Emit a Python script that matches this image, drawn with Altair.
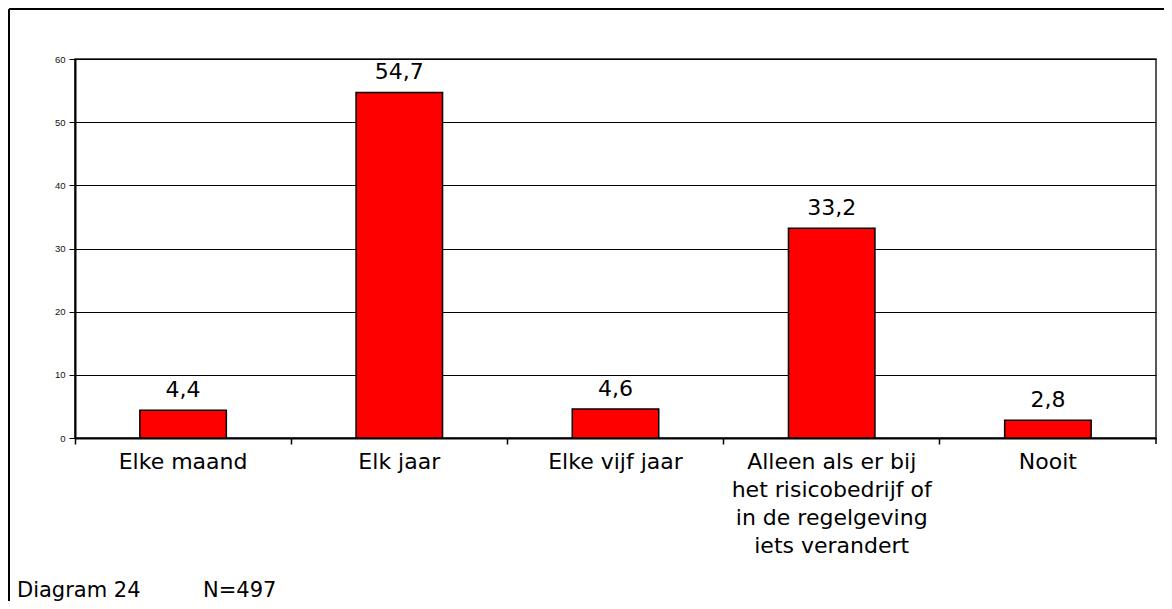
import altair as alt
import pandas as pd

categories = [
    "Elke maand",
    "Elk jaar",
    "Elke vijf jaar",
    "Alleen als er bij\nhet risicobedrijf of\nin de regelgeving\niets verandert",
    "Nooit",
]
values = [4.4, 54.7, 4.6, 33.2, 2.8]
y_ticks = [0, 10, 20, 30, 40, 50, 60]
footer_left = "Diagram 24"
footer_right = "N=497"

df = pd.DataFrame({"cat": categories, "val": values})
df["lbl"] = [f"{v:.1f}".replace(".", ",") for v in values]

W, H = 1081, 379
FONT = "DejaVu Sans"
FS = 22

x_scale = alt.Scale(domain=categories, paddingInner=0.6, paddingOuter=0.3)
y_scale = alt.Scale(domain=[0, 60], nice=False)

base = alt.Chart(df)

bars = base.mark_bar(color="#FF0000", stroke="black", strokeWidth=1.5).encode(
    x=alt.X("cat:N", scale=x_scale, sort=categories, title=None,
            axis=alt.Axis(orient="bottom", labelExpr="split(datum.label, '\\n')", labelAngle=0,
                          ticks=False, domain=True, domainColor="black", domainWidth=2,
                          labelFont=FONT, labelFontSize=FS, labelColor="black",
                          labelLimit=0, labelLineHeight=28, labelPadding=13, grid=False)),
    y=alt.Y("val:Q", scale=y_scale, title=None,
            axis=alt.Axis(values=y_ticks, grid=True, gridColor="black", gridWidth=1,
                          gridOpacity=1, domainColor="black", domainWidth=2,
                          tickColor="black", tickSize=6, tickWidth=1,
                          labelFont="Liberation Sans", labelFontSize=9.5,
                          labelColor="#111", labelPadding=4)),
)

texts = base.mark_text(font=FONT, fontSize=FS, color="black", baseline="alphabetic", dy=-13).encode(
    x=alt.X("cat:N", scale=x_scale, sort=categories, title=None,
            axis=alt.Axis(orient="bottom", labels=False, domain=False, grid=False, ticks=True,
                          tickColor="black", tickWidth=1.5, tickSize=6,
                          bandPosition=-0.75)),
    y=alt.Y("val:Q", scale=y_scale, axis=None),
    text="lbl:N",
)

end_tick = alt.Chart(pd.DataFrame({"a": [0]})).mark_rule(color="black", strokeWidth=1.5).encode(
    x=alt.value(W), y=alt.value(H), y2=alt.value(H + 6)
)

frame_left = alt.Chart(pd.DataFrame({"a": [0]})).mark_rule(color="black", strokeWidth=2).encode(
    x=alt.value(-66), y=alt.value(-50), y2=alt.value(H + 170)
)
frame_top = alt.Chart(pd.DataFrame({"a": [0]})).mark_rule(color="black", strokeWidth=2).encode(
    x=alt.value(-66), x2=alt.value(W + 10), y=alt.value(-50)
)

foot_l = alt.Chart(pd.DataFrame({"t": [footer_left]})).mark_text(
    font=FONT, fontSize=21, color="black", align="left", baseline="alphabetic"
).encode(x=alt.value(-58), y=alt.value(538), text="t:N")
foot_r = alt.Chart(pd.DataFrame({"t": [footer_right]})).mark_text(
    font=FONT, fontSize=21, color="black", align="left", baseline="alphabetic"
).encode(x=alt.value(128), y=alt.value(538), text="t:N")

chart = alt.layer(bars, texts, end_tick, frame_left, frame_top, foot_l, foot_r).resolve_axis(
    x="independent", y="independent"
).properties(
    width=W, height=H,
    autosize=alt.AutoSizeParams(type="none"),
    padding={"left": 67, "top": 51, "right": 8, "bottom": 163},
    background="white",
).configure_view(stroke="#222", strokeWidth=1.5)

chart.save("out.html", embed_options={"renderer": "svg", "actions": False})
